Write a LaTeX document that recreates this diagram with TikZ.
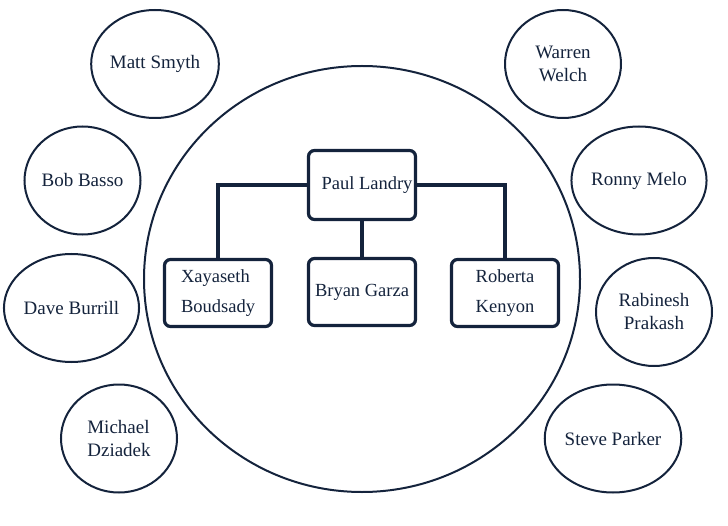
\documentclass[tikz,border=0pt]{standalone}
\usepackage{fontspec}
\setmainfont{Liberation Serif}
\usetikzlibrary{shapes.geometric}
\definecolor{navy}{HTML}{14233C}
\begin{document}
\begin{tikzpicture}[x=1bp,y=-1bp,
  person/.style={ellipse, draw=navy, line width=2bp, inner sep=0pt,
    minimum width=116bp, minimum height=108bp, text=navy, align=center,
    font=\fontsize{19bp}{23bp}\selectfont},
  stepbox/.style={rectangle, rounded corners=6bp, draw=navy, line width=3.2bp,
    inner sep=0pt, minimum width=107bp, minimum height=67bp, text=navy,
    font=\fontsize{18.5bp}{30bp}\selectfont},
  link/.style={draw=navy, line width=3.2bp}]
\useasboundingbox (0,0) rectangle (728,526);
\node[ellipse, draw=navy, line width=2bp, minimum width=436bp, minimum height=426bp, inner sep=0pt] (big) at (362,279) {};
% boxes
\node[stepbox, minimum height=69bp] (paul) at (362,185) {\hspace*{10bp}Paul Landry};
\node[stepbox, align=left] (xay) at (218,293) {Xayaseth\\Boudsady};
\node[stepbox] (bryan) at (362,292) {Bryan Garza};
\node[stepbox, align=center] (rob) at (505,293) {Roberta\\Kenyon};
\draw[link] (paul.west) -| (xay.north);
\draw[link] (paul.east) -| (rob.north);
\draw[link] (paul.south) -- (bryan.north);
% people
\node[person] (matt) at (155,64) {Matt Smyth};
\node[person] (bob) at (82.5,180.5) {Bob Basso};
\node[person] (dave) at (71.5,308) {Dave Burrill};
\node[person, align=left] (michael) at (119,438.5) {Michael\\Dziadek};
\node[person] (warren) at (563,64) {Warren\\Welch};
\node[person] (ronny) at (639,180.5) {Ronny Melo};
\node[person] (rabinesh) at (654,312) {Rabinesh\\Prakash};
\node[person] (steve) at (613,438.5) {Steve Parker};
\end{tikzpicture}
\end{document}
